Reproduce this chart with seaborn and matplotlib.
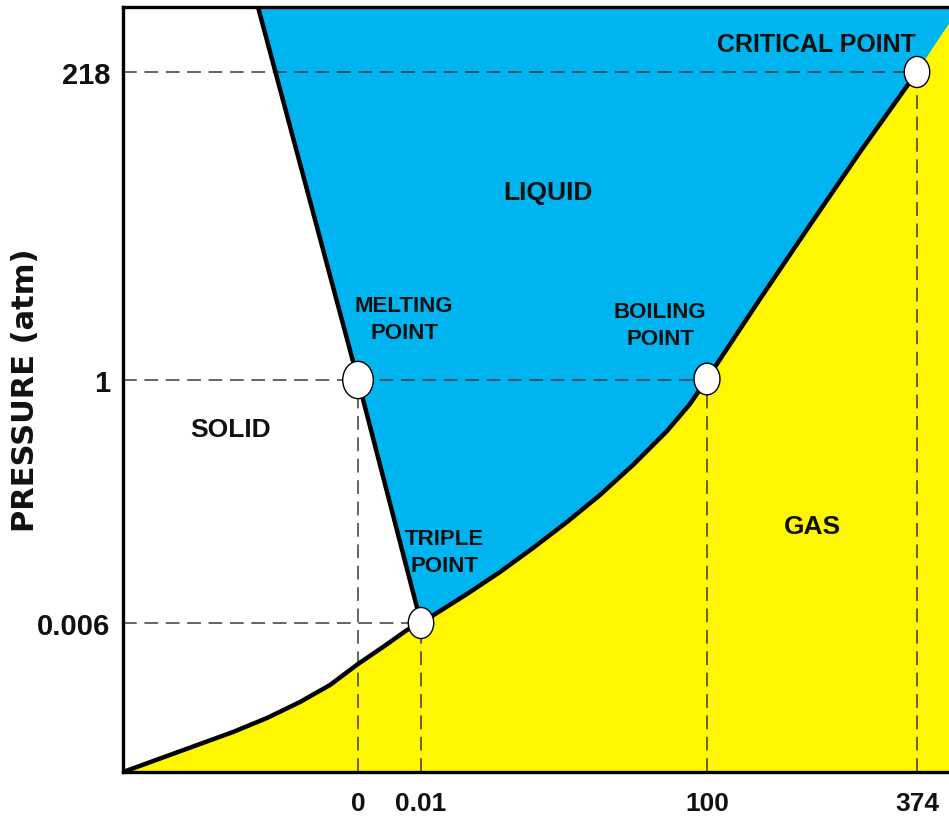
import numpy as np
import pandas as pd
import matplotlib.pyplot as plt
import seaborn as sns
from matplotlib.path import Path
from matplotlib.transforms import Affine2D

# %% data (schematic axes, not to scale -- same as the textbook drawing)
x_max, y_max = 826, 765

# sublimation curve (solid / gas)
sub_x = [0, 44, 77, 110, 144, 177, 207, 235, 260, 284, 298]
sub_y = [0, 16, 28, 40, 54, 70, 87, 108, 125, 142, 149]
# vaporization curve (liquid / gas)
vap_x = [298, 344, 377, 410, 444, 477, 510, 544, 567, 584, 637, 687, 737, 794]
vap_y = [149, 178, 200, 224, 250, 277, 307, 341, 368, 393, 473, 547, 620, 700]
# fusion line (solid / liquid)
fus_x = [135, 235, 298]
fus_y = [765, 392, 149]
# gas region edge past the critical point (no line drawn)
ext_x = [794, 826]
ext_y = [700, 748]

pt_names = ["MELTING\nPOINT", "TRIPLE\nPOINT", "BOILING\nPOINT", "CRITICAL POINT"]
pt_x = [235, 298, 584, 794]
pt_y = [392, 149, 393, 700]

temp_ticks = [235, 298, 584, 794]
temp_labels = ["0", "0.01", "100", "374"]
pres_ticks = [149, 392, 700]
pres_labels = ["0.006", "1", "218"]

regions = ["SOLID", "LIQUID", "GAS"]

# %% style
sns.set_style("white")
plt.rcParams["font.family"] = ["Liberation Sans", "DejaVu Sans"]

BLUE = "#00b4ef"
YELLOW = "#fff700"
INK = "#111111"

fig = plt.figure(figsize=(9.49, 8.2), dpi=100)
ax = fig.add_axes([123 / 949, 47 / 820, 826 / 949, 765 / 820])

# %% regions
liq_x = fus_x + vap_x[1:] + ext_x[1:] + [x_max]
liq_y = fus_y + vap_y[1:] + ext_y[1:] + [y_max]
ax.fill(liq_x, liq_y, color=BLUE, lw=0, zorder=1)

gas_x = sub_x + vap_x[1:] + ext_x[1:] + [x_max]
gas_y = sub_y + vap_y[1:] + ext_y[1:] + [0]
ax.fill(gas_x, gas_y, color=YELLOW, lw=0, zorder=1)

# %% dashed guide lines
dash = dict(color="#3a3a3a", lw=1.1, linestyle=(0, (9, 5)), zorder=2)
ax.hlines(pt_y[1], 0, pt_x[1], **dash)
ax.hlines(pt_y[0], 0, pt_x[2], **dash)
ax.hlines(pt_y[3], 0, pt_x[3], **dash)
ax.vlines(pt_x, 0, pt_y, **dash)

# %% phase boundaries
curves = pd.concat([
    pd.DataFrame({"t": sub_x, "p": sub_y, "curve": "sub"}),
    pd.DataFrame({"t": vap_x, "p": vap_y, "curve": "vap"}),
    pd.DataFrame({"t": fus_x, "p": fus_y, "curve": "fus"}),
])
sns.lineplot(data=curves, x="t", y="p", units="curve", estimator=None,
             sort=False, color="black", lw=3.2, ax=ax, zorder=3)
for ln in ax.lines:
    ln.set_solid_joinstyle("round")

# points drawn slightly taller than wide, as in the picture
oval = Path.unit_circle().transformed(Affine2D().scale(0.82, 1.0))
pts = pd.DataFrame({"t": pt_x, "p": pt_y, "name": pt_names})
sizes = [720, 500, 520, 500]
ax.scatter(pts["t"], pts["p"], s=sizes, marker=oval, color="white",
           edgecolor="black", linewidths=1.0, zorder=4)

# %% labels
lab_xy = [(281, 453), (321, 220), (537, 447), (693, 728)]
lab_fs = [16, 16, 16, 18]
for name, (lx, ly), fs in zip(pt_names, lab_xy, lab_fs):
    ax.text(lx, ly, name, ha="center", va="center", fontsize=fs,
            fontweight="bold", color=INK, linespacing=1.35, zorder=5)

reg_xy = [(108, 343), (425, 580), (689, 246)]
for name, (rx, ry) in zip(regions, reg_xy):
    ax.text(rx, ry, name, ha="center", va="center", fontsize=19,
            fontweight="bold", color=INK, zorder=5)

# %% axes
ax.set_xlim(0, x_max)
ax.set_ylim(0, y_max)
ax.set_xticks(temp_ticks, temp_labels, fontsize=19, fontweight="bold")
ax.set_yticks(pres_ticks, pres_labels, fontsize=21, fontweight="bold")
ax.tick_params(axis="x", length=0, pad=14, colors=INK)
ax.tick_params(axis="y", length=0, pad=9, colors=INK)
ax.set_xlabel("")
ax.set_ylabel("PRESSURE (atm)", fontsize=22, fontweight="bold",
              family="DejaVu Sans", color=INK)
ax.yaxis.set_label_coords(-0.1, 0.5)

for side in ["left", "top", "bottom"]:
    ax.spines[side].set_color("black")
    ax.spines[side].set_linewidth(2.4)
    ax.spines[side].set_zorder(6)
ax.spines["right"].set_visible(False)

fig.savefig("out.png", dpi=100)
